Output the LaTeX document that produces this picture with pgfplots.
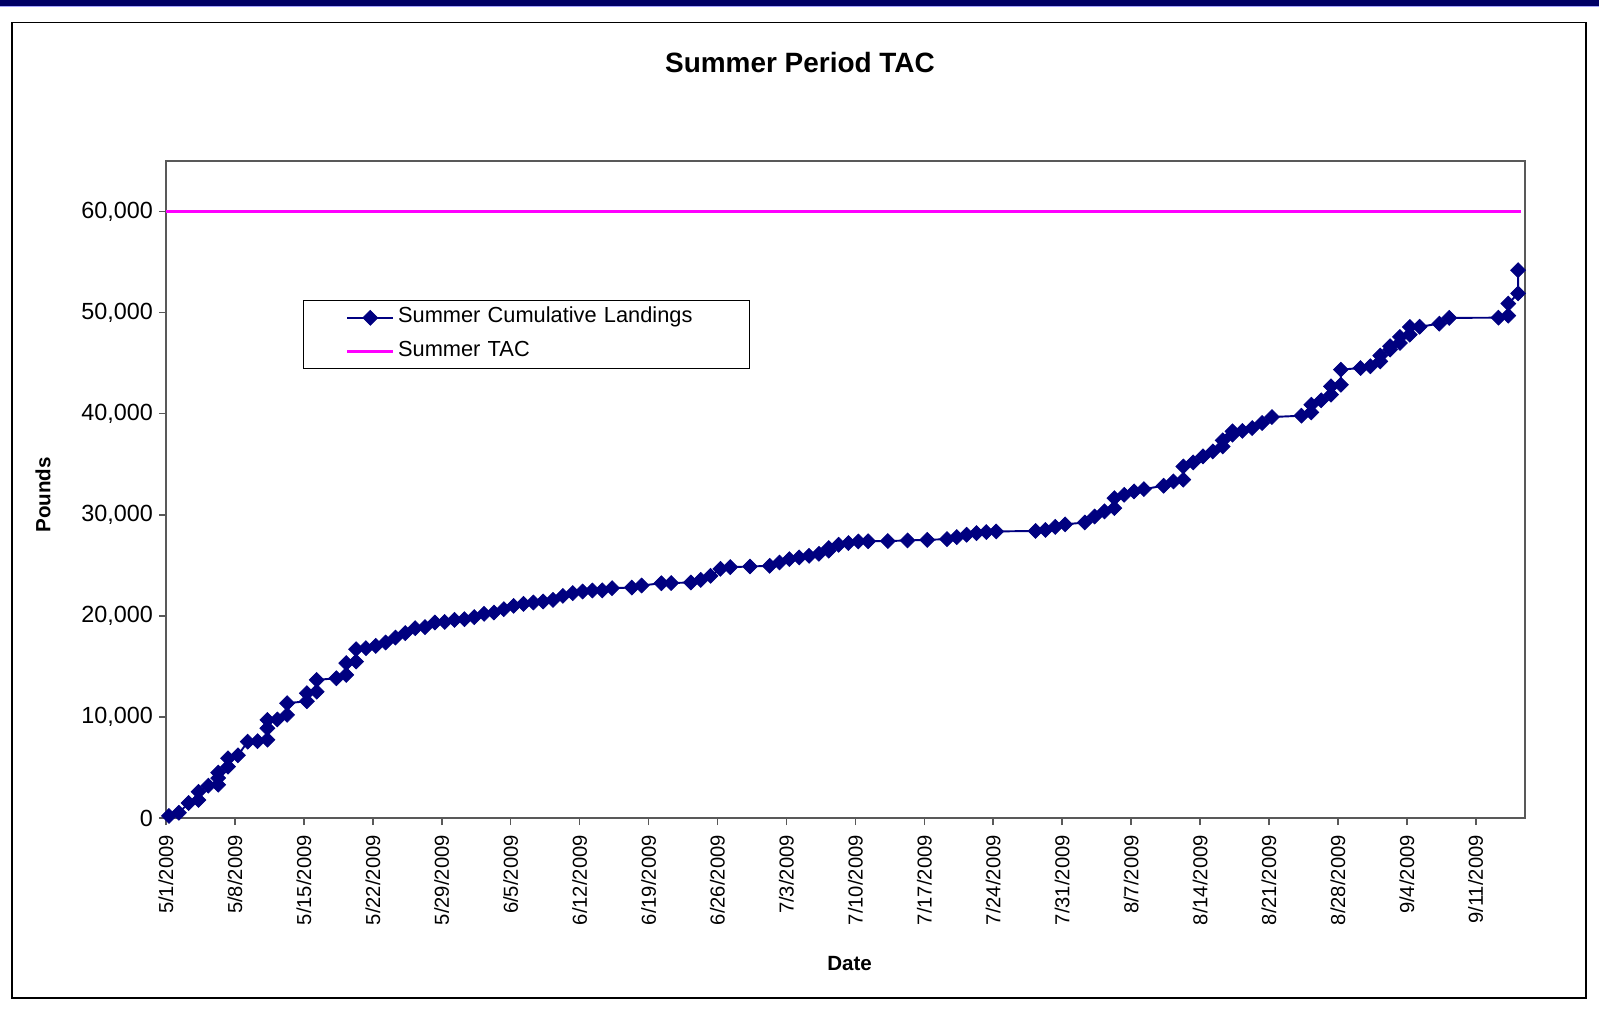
\documentclass[border=0pt]{standalone}
\usepackage{fontspec}
\setmainfont{Liberation Sans}
\usepackage{pgfplots}
\usepackage{pgfplotstable}
\pgfplotsset{compat=1.18}

\definecolor{navyline}{RGB}{0,0,128}
\definecolor{barnavy}{RGB}{0,0,102}
\definecolor{tacpink}{RGB}{255,0,255}

% day (0 = 5/1/2009), cumulative pounds
\pgfplotstableread{
day pounds
0.3 200
1.3 520
2.3 1480
3.3 1780
3.3 2600
4.3 3200
5.3 3300
5.3 3950
5.3 4500
6.3 5080
6.3 5910
7.3 6200
8.3 7550
9.3 7600
10.3 7750
10.3 8880
10.3 9700
11.3 9750
12.3 10200
12.3 11360
14.3 11550
14.3 12350
15.3 12500
15.3 13660
17.3 13830
18.3 14160
18.3 15320
19.3 15480
19.3 16700
20.3 16800
21.3 17030
22.3 17360
23.3 17850
24.3 18290
25.3 18780
26.3 18880
27.3 19340
28.3 19400
29.3 19600
30.3 19670
31.3 19870
32.3 20200
33.3 20330
34.3 20660
35.3 20990
36.3 21190
37.3 21320
38.3 21420
39.3 21580
40.3 21980
41.3 22250
42.3 22410
43.3 22510
44.3 22520
45.3 22740
47.3 22800
48.3 23000
50.3 23230
51.3 23250
53.3 23300
54.3 23560
55.3 23960
56.3 24650
57.3 24820
59.3 24880
61.3 24950
62.3 25280
63.3 25610
64.3 25780
65.3 25940
66.3 26140
67.3 26440
67.3 26700
68.3 27030
69.3 27200
70.3 27360
71.3 27380
73.3 27400
75.3 27460
77.3 27520
79.3 27590
80.3 27790
81.3 28020
82.3 28190
83.3 28290
84.3 28350
88.3 28400
89.3 28500
90.3 28800
91.3 29050
93.3 29240
94.3 29830
95.3 30330
96.3 30660
96.3 31650
97.3 31980
98.3 32310
99.3 32540
101.3 32870
102.3 33300
103.3 33470
103.3 34780
104.3 35180
105.3 35780
106.3 36270
107.3 36760
107.3 37360
108.3 37920
108.3 38250
109.3 38300
110.3 38580
111.3 39080
112.3 39670
115.3 39800
116.3 40130
116.3 40890
117.3 41320
118.3 41880
118.3 42700
119.3 42870
119.3 44360
121.3 44520
122.3 44690
123.3 45180
123.3 45740
124.3 46340
124.3 46670
125.3 47000
125.3 47590
126.3 47820
126.3 48580
127.3 48600
129.3 48910
130.3 49480
135.3 49500
136.3 49700
136.3 50900
137.3 51900
137.3 54200
}\landings

\begin{document}
\begin{tikzpicture}
\useasboundingbox (0,0) rectangle (31.98,-20.18);
\fill[barnavy] (0,0) rectangle (31.98,-0.12);
\fill[blue!35!white] (0,-0.12) rectangle (31.98,-0.15);
\draw[black, line width=0.7pt] (0.24,-0.45) rectangle (31.72,-19.96);
\node[font=\bfseries\fontsize{15.9}{19}\selectfont] at (16.0,-1.26) {Summer Period TAC};

\begin{axis}[
  at={(3.32cm,-16.36cm)}, anchor=south west,
  scale only axis, width=27.18cm, height=13.14cm,
  xmin=0, xmax=138, ymin=0, ymax=65000,
  clip=false,
  axis line style={draw=gray!70!black, line width=0.9pt},
  tick style={draw=gray!70!black, line width=0.9pt},
  tick align=outside, major tick length=0.14cm,
  xtick pos=left, ytick pos=left,
  xtick={0,7,...,133},
  xticklabels={5/1/2009,5/8/2009,5/15/2009,5/22/2009,5/29/2009,6/5/2009,6/12/2009,6/19/2009,6/26/2009,7/3/2009,7/10/2009,7/17/2009,7/24/2009,7/31/2009,8/7/2009,8/14/2009,8/21/2009,8/28/2009,9/4/2009,9/11/2009},
  xticklabel style={rotate=90, anchor=east, font=\fontsize{11.5}{13}\selectfont, xshift=-0.08cm},
  ytick={0,10000,...,60000},
  scaled y ticks=false,
  yticklabel style={font=\fontsize{13.3}{15}\selectfont, /pgf/number format/.cd, fixed, 1000 sep={,}, assume math mode=true},
  xlabel={Date}, ylabel={Pounds},
  xlabel style={font=\bfseries\fontsize{11.7}{14}\selectfont, at={(axis description cs:0.503,-0.222)}, anchor=center},
  ylabel style={font=\bfseries\fontsize{11.7}{14}\selectfont, at={(axis description cs:-0.0905,0.492)}, anchor=center, rotate=0},
  legend style={at={(0.1008,0.788)}, anchor=north west, draw=black, line width=0.6pt,
    font=\fontsize{12.4}{15}\selectfont, inner xsep=0.85cm, inner ysep=0.04cm,
    row sep=0.07cm,
    nodes={text width=6.1cm, align=left, text height=0.3cm, text depth=0.1cm, inner ysep=0.1cm}},
  legend cell align=left,
  legend image code/.code={
    \draw[mark repeat=2, mark phase=2, #1] plot coordinates {(0cm,0cm) (0.46cm,0cm) (0.92cm,0cm)};
  },
]
\addplot[color=navyline, line width=1.1pt, mark=square*, mark size=3pt,
  mark options={rotate=45, fill=navyline, draw=navyline, line width=0.4pt}]
  table[x=day, y=pounds] {\landings};
\addlegendentry{Summer Cumulative Landings}
\addplot[color=tacpink, line width=1.5pt] coordinates {(0,60000) (137.6,60000)};
\addlegendentry{Summer TAC}
\end{axis}
\end{tikzpicture}
\end{document}
